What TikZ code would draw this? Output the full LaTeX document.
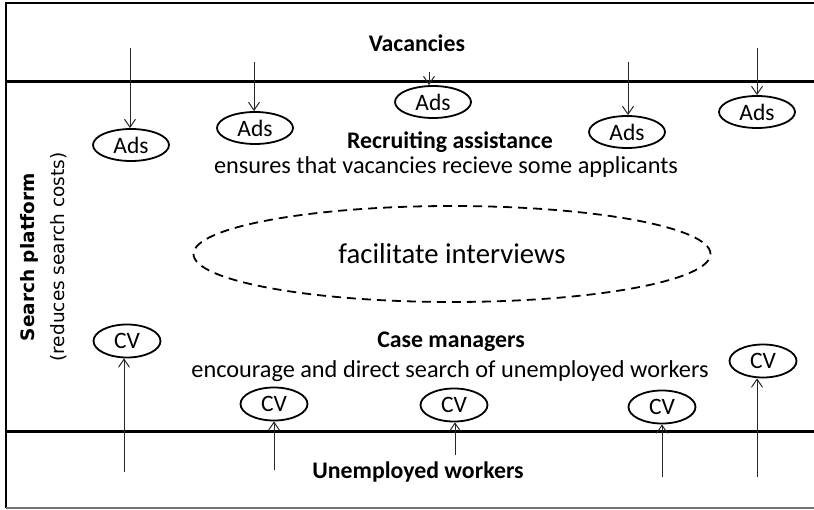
\documentclass[tikz,border=0pt]{standalone}
\usepackage{fontspec}
\setmainfont{Carlito}
\newfontfamily\sidefont{DejaVu Sans}
\usetikzlibrary{shapes.geometric,arrows.meta}

\begin{document}
\begin{tikzpicture}[x=1pt,y=-1pt,>={Straight Barb[length=8pt,width=11pt]},
    ad node/.style={ellipse,draw,line width=1.8pt,minimum width=76pt,minimum height=32pt,inner sep=0pt,font=\fontsize{23.5}{26}\selectfont},
    cv node/.style={ad node,minimum width=67pt,minimum height=33pt},
    head/.style={font=\fontsize{23.8}{27}\selectfont\bfseries},
    line/.style={font=\fontsize{24.3}{27}\selectfont},
    feed/.style={->,line width=1pt,black!85}]
    \useasboundingbox (0,0) rectangle (814,510);
    % frame and bands
    \draw[line width=2pt] (814,3) -- (6,3) -- (6,508);
    \draw[line width=1.4pt,black!55] (6,508) -- (814,508);
    \draw[line width=3pt] (6,81.5) -- (814,81.5);
    \draw[line width=3pt] (6,432) -- (814,432);

    \node[head] (vac) at (417,43) {Vacancies};
    \node[head] (unemp) at (418,472) {Unemployed workers};
    \node[rotate=90,align=center,font=\sidefont\fontsize{18.5}{30}\selectfont] (side) at (44,257) {\textbf{Search platform}\\(reduces search costs)};

    \node[head] (recr) at (450,142) {Recruiting assistance};
    \node[line] (recrtxt) at (446,167) {ensures that vacancies recieve some applicants};
    \node[head] (case) at (451,342) {Case managers};
    \node[line] (casetxt) at (450,371) {encourage and direct search of unemployed workers};

    \node[ellipse,draw,dash pattern=on 9pt off 6pt,line width=1.8pt,minimum width=517pt,minimum height=96pt,font=\fontsize{28.7}{32}\selectfont] (meet) at (452,254) {facilitate interviews};

    % ads
    \node[ad node] (a1) at (131,145) {Ads};
    \node[ad node] (a2) at (255,128) {Ads};
    \node[ad node] (a3) at (433,102) {Ads};
    \node[ad node] (a4) at (627,132) {Ads};
    \node[ad node] (a5) at (757,112) {Ads};
    \coordinate (s1) at (130,48);
    \coordinate (s2) at (254,62);
    \coordinate (s3) at (429,72);
    \coordinate (s4) at (628,62);
    \coordinate (s5) at (757,48);
    \foreach \i in {1,...,5}
        \draw[feed] (s\i) -- (s\i |- a\i.north);

    % cvs
    \node[cv node] (c1) at (127,341) {CV};
    \node[cv node] (c2) at (274,404) {CV};
    \node[cv node] (c3) at (454,405) {CV};
    \node[cv node] (c4) at (662,407) {CV};
    \node[cv node] (c5) at (763,361) {CV};
    \coordinate (u1) at (124,472);
    \coordinate (u2) at (274,470);
    \coordinate (u3) at (455,455);
    \coordinate (u4) at (662,477);
    \coordinate (u5) at (757,477);
    \foreach \i in {1,...,5}
        \draw[feed] (u\i) -- (u\i |- c\i.south);
\end{tikzpicture}
\end{document}
